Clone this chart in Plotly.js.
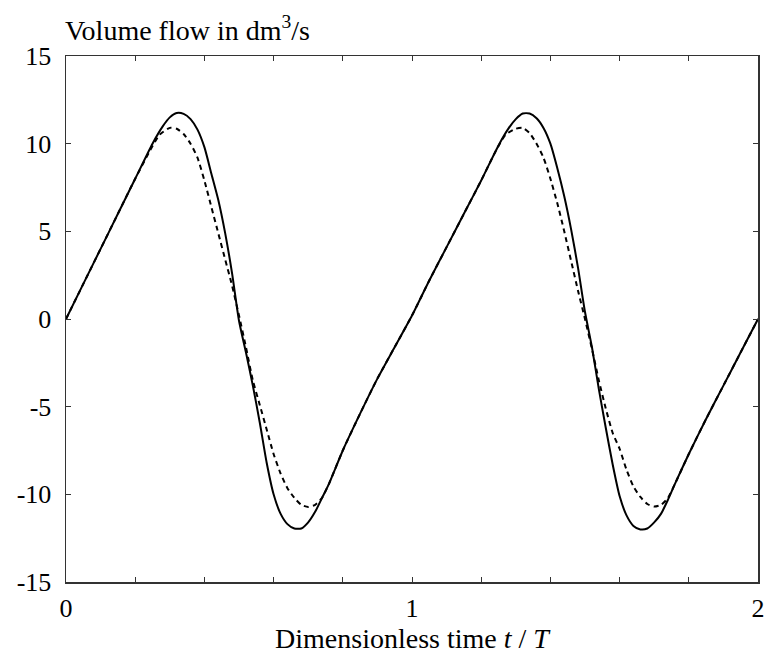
<!DOCTYPE html>
<html>
<head>
<meta charset="utf-8">
<script src="https://cdn.plot.ly/plotly-3.0.1.min.js"></script>
<style>html,body{margin:0;padding:0;background:#fff;}#chart{width:765px;height:654px;}</style>
</head>
<body>
<div id="chart"></div>
<script>
// Solid curve (measured)
const tSolid = [0,0.05,0.10,0.15,0.20,0.25,0.28,0.30,0.32,0.34,0.36,0.38,0.40,0.42,0.44,0.46,0.48,0.50,0.52,0.54,0.56,0.58,0.60,0.62,0.64,0.66,0.68,0.70,0.72,0.74,0.76,0.80,0.85,0.90,0.95,1.00,
  1.05,1.10,1.15,1.20,1.25,1.28,1.30,1.32,1.34,1.36,1.38,1.40,1.42,1.44,1.46,1.48,1.50,1.52,1.54,1.56,1.58,1.60,1.62,1.64,1.66,1.68,1.70,1.72,1.74,1.76,1.80,1.85,1.90,1.95,2.00];
const vSolid = [0,2.0,4.0,6.0,8.0,10.0,11.0,11.5,11.75,11.7,11.4,10.8,9.8,8.3,6.8,4.9,2.6,-0.1,-1.9,-3.8,-5.9,-8.2,-10.0,-11.1,-11.7,-11.95,-11.95,-11.6,-11.0,-10.2,-9.4,-7.5,-5.4,-3.4,-1.6,0.2,
  2.2,4.1,6.0,7.9,9.9,10.9,11.4,11.72,11.72,11.45,10.9,10.0,8.6,7.0,5.1,2.9,0.4,-1.6,-4.0,-6.2,-8.3,-10.1,-11.2,-11.8,-12.0,-11.95,-11.6,-11.1,-10.3,-9.4,-7.7,-5.7,-3.8,-1.9,0.0];
// Dashed curve (measured)
const tDashed = [0,0.05,0.10,0.15,0.20,0.24,0.27,0.30,0.32,0.34,0.36,0.38,0.40,0.42,0.44,0.46,0.48,0.50,0.52,0.54,0.56,0.58,0.60,0.62,0.64,0.66,0.68,0.70,0.72,0.74,0.76,0.80,0.85,0.90,0.95,1.00,
  1.05,1.10,1.15,1.20,1.24,1.27,1.30,1.32,1.34,1.36,1.38,1.40,1.42,1.44,1.46,1.48,1.50,1.52,1.54,1.56,1.58,1.60,1.62,1.64,1.66,1.68,1.70,1.72,1.74,1.76,1.80,1.85,1.90,1.95,2.00];
const vDashed = [0,2.0,4.0,6.0,8.0,9.5,10.5,10.9,10.85,10.55,10.0,9.2,7.9,6.4,4.9,3.4,1.9,0.2,-1.6,-3.5,-4.9,-6.3,-7.7,-8.8,-9.65,-10.2,-10.6,-10.72,-10.6,-10.2,-9.4,-7.5,-5.4,-3.4,-1.6,0.2,
  2.2,4.1,6.0,7.9,9.5,10.5,10.85,10.9,10.6,10.0,9.2,8.0,6.6,5.0,3.3,1.6,0.0,-1.7,-3.5,-5.1,-6.5,-7.4,-8.6,-9.55,-10.15,-10.55,-10.7,-10.6,-10.2,-9.4,-7.7,-5.7,-3.8,-1.9,0.0];

const xTickVals = [0,0.2,0.4,0.6,0.8,1,1.2,1.4,1.6,1.8,2];
const xTickText = ['0','','','','','1','','','','','2'];
const yTickVals = [-15,-10,-5,0,5,10,15];
const yTickText = ['-15','-10','-5','0','5','10','15'];

const font = 'Liberation Serif, Times New Roman, serif';

const traces = [
  {x:tSolid, y:vSolid, type:'scatter', mode:'lines', line:{color:'#000', width:2, shape:'spline', smoothing:0.6}, hoverinfo:'skip'},
  {x:tDashed, y:vDashed, type:'scatter', mode:'lines', line:{color:'#000', width:2, dash:'5px,4px', shape:'spline', smoothing:0.6}, hoverinfo:'skip'}
];

const layout = {
  width:765, height:654,
  margin:{l:66, r:7, t:56, b:72},
  paper_bgcolor:'#fff', plot_bgcolor:'#fff',
  showlegend:false,
  font:{family:font, color:'#000', size:26},
  xaxis:{range:[0,2], tickvals:xTickVals, ticktext:xTickText, ticks:'inside', ticklen:5, tickcolor:'#333',
    showline:true, linecolor:'#333', linewidth:1.5, mirror:'ticks', showgrid:false, zeroline:false,
    tickfont:{family:font, size:26, color:'#000'}, ticklabelstandoff:2,
    title:{text:'Dimensionless time <i>t</i> / <i>T</i>', font:{family:font, size:28, color:'#000'}, standoff:2}},
  yaxis:{range:[-15,15], tickvals:yTickVals, ticktext:yTickText, ticks:'inside', ticklen:5, tickcolor:'#333',
    showline:true, linecolor:'#333', linewidth:1.5, mirror:'ticks', showgrid:false, zeroline:false,
    tickfont:{family:font, size:26, color:'#000'}, ticklabelstandoff:8},
  annotations:[{text:'Volume flow in dm<sup>3</sup>/s', xref:'paper', yref:'paper', x:0, y:1, xanchor:'left', yanchor:'bottom',
    xshift:-3, yshift:8, showarrow:false, font:{family:font, size:28, color:'#000'}}]
};

Plotly.newPlot('chart', traces, layout, {staticPlot:true, displayModeBar:false});
</script>
</body>
</html>
